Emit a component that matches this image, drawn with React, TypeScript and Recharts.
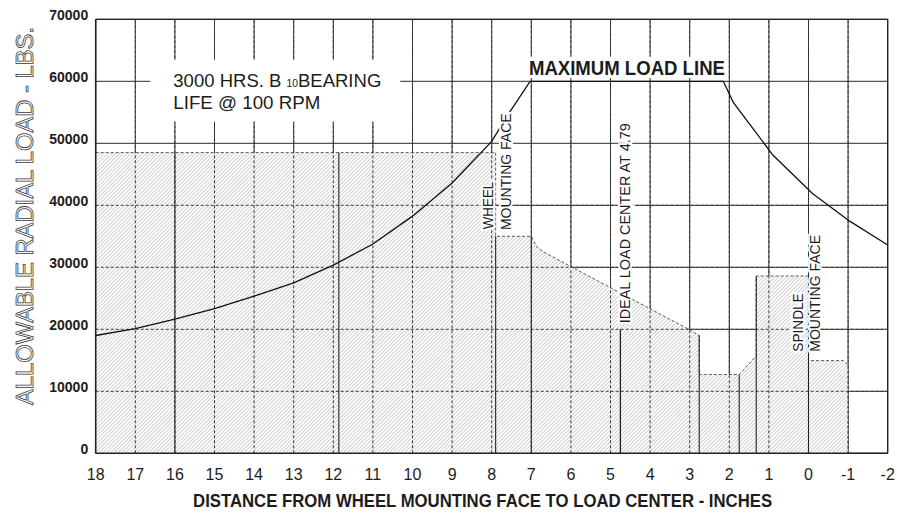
import React from 'react';
import {
  ComposedChart,
  Area,
  Line,
  XAxis,
  YAxis,
  CartesianGrid,
  ReferenceLine,
  ReferenceDot,
} from 'recharts';

// ---- data ----
const xTicks = [18, 17, 16, 15, 14, 13, 12, 11, 10, 9, 8, 7, 6, 5, 4, 3, 2, 1, 0, -1, -2];
const yTicks = [0, 10000, 20000, 30000, 40000, 50000, 60000, 70000];

// Maximum load line
const maxLoadX = [18, 17, 16, 15, 14, 13, 12, 11, 10, 9, 8, 7.58, 7.03, 2.15, 1.9, 0.9, -0.1, -1.05, -2];
const maxLoadY = [19000, 20100, 21650, 23350, 25350, 27500, 30350, 33750, 38250, 43600, 50300, 54700, 60000, 60000, 56600, 48100, 41900, 37400, 33600];

// Allowable (hatched) load zone outline
const zoneX = [18, 7.9, 7.9, 7.0, 6.86, 6.7, 3.04, 2.76, 2.76, 1.75, 1.32, 1.32, 0, 0, -0.88, -1.0, -1.0];
const zoneY = [48500, 48500, 35000, 35000, 33300, 32500, 20050, 19000, 12700, 12700, 15700, 28600, 28600, 14950, 14950, 14200, 0];

// Solid section dividers inside the hatched zone
const dividerX = [16, 11.86, 7.9, 7.0, 2.76, 1.75, 1.32, 0];
const dividerTop = [48500, 48500, 35000, 35000, 19000, 12700, 28600, 28600];

// Ideal load center line
const idealX = 4.75;
const idealTop = 20000;

const dashedLevels = [10000, 20000, 30000, 40000];
const dashedXs = [17, 16, 15, 14, 13, 12, 11, 10, 9, 8, 7, 6, 5, 4, 3, 2, 1, 0, -1];

const maxLoadData = maxLoadX.map((x, i) => ({ x, y: maxLoadY[i] }));
const zoneData = zoneX.map((x, i) => ({ x, y: zoneY[i] }));

const FONT = '"Liberation Sans", Arial, Helvetica, sans-serif';
const INK = '#1c1c1c';

const XTick = (p: any) => (
  <text x={p.x} y={p.y + 26.7} textAnchor="middle" fontFamily={FONT} fontSize={16} fill={INK}>
    {p.payload.value}
  </text>
);

const YTick = (p: any) => (
  <text x={p.x} y={p.y + 0.7} textAnchor="end" fontFamily={FONT} fontSize={14} fontWeight="bold" fill={INK}>
    {p.payload.value}
  </text>
);

const center = (p: any) => {
  const vb = p.viewBox || {};
  return { cx: (vb.x || 0) + (vb.width || 0) / 2, cy: (vb.y || 0) + (vb.height || 0) / 2 };
};

const rotatedText = (text: string, size: number, len: number) => (p: any) => {
  const { cx, cy } = center(p);
  return (
    <text
      x={cx}
      y={cy}
      transform={`rotate(-90 ${cx} ${cy})`}
      textAnchor="start"
      fontFamily={FONT}
      fontSize={size}
      fill={INK}
      stroke="#fff"
      strokeWidth={4}
      paintOrder="stroke"
      textLength={len}
      lengthAdjust="spacingAndGlyphs"
    >
      {text}
    </text>
  );
};

const MaxLabel = (p: any) => {
  const { cx, cy } = center(p);
  return (
    <g>
      <rect x={cx - 2} y={cy - 18.3} width={200} height={21.5} fill="#fff" />
      <text x={cx} y={cy} fontFamily={FONT} fontSize={20} fontWeight="bold" fill={INK} textLength={196} lengthAdjust="spacingAndGlyphs">
        MAXIMUM LOAD LINE
      </text>
    </g>
  );
};

const LifeLabel = (p: any) => {
  const { cx, cy } = center(p);
  return (
    <g>
      <rect x={cx - 23} y={cy - 27} width={250} height={62} fill="#fff" />
      <text x={cx} y={cy} fontFamily={FONT} fontSize={18} fill={INK} textLength={208} lengthAdjust="spacingAndGlyphs">
        <tspan>3000 HRS. B </tspan>
        <tspan fontSize={10}>10</tspan>
        <tspan>BEARING</tspan>
      </text>
      <text x={cx} y={cy + 22.3} fontFamily={FONT} fontSize={18} fill={INK} textLength={147} lengthAdjust="spacingAndGlyphs">
        LIFE @ 100 RPM
      </text>
    </g>
  );
};

const YTitle = (p: any) => {
  const { cx, cy } = center(p);
  return (
    <text
      x={cx}
      y={cy}
      transform={`rotate(-90 ${cx} ${cy})`}
      textAnchor="middle"
      fontFamily={FONT}
      fontSize={24}
      fill="#ffffff"
      stroke="#3a3a3a"
      strokeWidth={0.8}
      textLength={378}
      lengthAdjust="spacingAndGlyphs"
    >
      ALLOWABLE RADIAL LOAD - LBS.
    </text>
  );
};

const XTitle = (p: any) => {
  const { cx, cy } = center(p);
  return (
    <text x={cx} y={cy} textAnchor="middle" fontFamily={FONT} fontSize={18} fontWeight="bold" fill={INK} textLength={579} lengthAdjust="spacingAndGlyphs">
      DISTANCE FROM WHEEL MOUNTING FACE TO LOAD CENTER - INCHES
    </text>
  );
};

const dot = (x: number, y: number, content: any, key: string) => (
  <ReferenceDot key={key} x={x} y={y} r={0} fill="none" stroke="none" ifOverflow="visible" label={content} />
);

export default function App() {
  return (
    <div style={{ position: 'absolute', left: 0, top: 0, background: '#fff' }}>
      <ComposedChart width={897} height={513} margin={{ top: 19.3, right: 9.3, bottom: 0, left: 0 }}>
        <defs>
          <pattern id="hatch" patternUnits="userSpaceOnUse" width="2.7" height="2.7" patternTransform="rotate(45)">
            <rect width="2.7" height="2.7" fill="#fff" />
            <line x1="1.35" y1="0" x2="1.35" y2="2.7" stroke="#a8a8a8" strokeWidth="0.55" />
          </pattern>
        </defs>
        <CartesianGrid stroke="#2a2a2a" strokeWidth={1} />
        <XAxis
          type="number"
          dataKey="x"
          domain={[-2, 18]}
          ticks={xTicks}
          interval={0}
          reversed
          allowDataOverflow
          height={59.7}
          tickSize={0}
          tickMargin={0}
          tickLine={false}
          axisLine={{ stroke: '#222', strokeWidth: 1.6 }}
          tick={XTick}
        />
        <YAxis
          type="number"
          dataKey="y"
          domain={[0, 70000]}
          ticks={yTicks}
          interval={0}
          allowDataOverflow
          width={95.7}
          tickSize={0}
          tickMargin={7.5}
          tickLine={false}
          axisLine={{ stroke: '#222', strokeWidth: 1.6 }}
          tick={YTick}
        />
        <Area
          data={zoneData}
          dataKey="y"
          type="linear"
          fill="url(#hatch)"
          fillOpacity={1}
          stroke="#333"
          strokeWidth={0.8}
          strokeDasharray="3 2"
          isAnimationActive={false}
          dot={false}
          activeDot={false}
        />
        {dashedLevels.map((v) => (
          <ReferenceLine key={'h' + v} y={v} stroke="#3a3a3a" strokeWidth={1} strokeDasharray="3 2" />
        ))}
        {dashedXs.map((v) => (
          <ReferenceLine key={'v' + v} x={v} stroke="#3a3a3a" strokeWidth={1} strokeDasharray="3 2" />
        ))}
        {dividerX.map((x, i) => (
          <ReferenceLine
            key={'d' + i}
            segment={[{ x, y: 0 }, { x, y: dividerTop[i] }]}
            stroke="#222"
            strokeWidth={1.1}
          />
        ))}
        <ReferenceLine segment={[{ x: idealX, y: 0 }, { x: idealX, y: idealTop }]} stroke="#222" strokeWidth={1.3} />
        <ReferenceLine y={70000} stroke="#222" strokeWidth={1.2} />
        <ReferenceLine x={-2} stroke="#222" strokeWidth={1.2} />
        <Line
          data={maxLoadData}
          dataKey="y"
          type="linear"
          stroke="#111"
          strokeWidth={1.3}
          dot={false}
          activeDot={false}
          isAnimationActive={false}
        />
        {dot(16.04, 59130, LifeLabel, 'life')}
        {dot(7.06, 61020, MaxLabel, 'max')}
        {dot(7.96, 36130, rotatedText('WHEEL', 14, 47.6), 'wheel')}
        {dot(7.51, 36010, rotatedText('MOUNTING FACE', 14, 116.7), 'wmf')}
        {dot(4.51, 20970, rotatedText('IDEAL LOAD CENTER AT 4.79', 15, 200), 'ideal')}
        {dot(0.13, 16390, rotatedText('SPINDLE', 14, 58.4), 'spindle')}
        {dot(-0.29, 16390, rotatedText('MOUNTING FACE', 14, 116.7), 'smf')}
        {dot(19.58, 38274, YTitle, 'ytitle')}
        {dot(8.23, -8613, XTitle, 'xtitle')}
      </ComposedChart>
    </div>
  );
}
